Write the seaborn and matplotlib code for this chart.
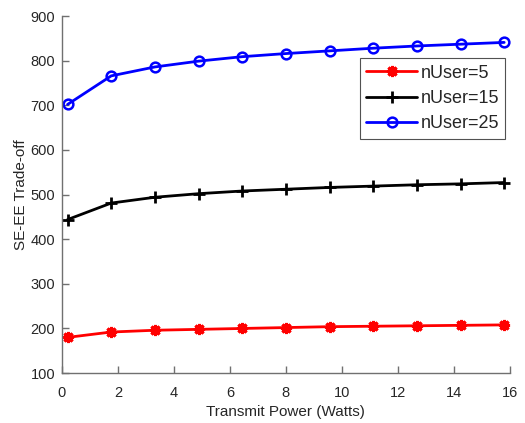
import numpy as np
import pandas as pd
import seaborn as sns
import matplotlib.pyplot as plt

# Transmit power samples (Watts)
power = [0.2, 1.76, 3.32, 4.88, 6.44, 8.0, 9.56, 11.12, 12.68, 14.24, 15.8]

# SE-EE trade-off per number of users
user5 = [180, 192, 196, 198, 200, 202, 204, 205, 206, 207, 208]
user15 = [444, 481, 494, 502, 508, 512, 516, 519, 522, 524, 527]
user25 = [702, 766, 786, 799, 809, 816, 822, 828, 833, 837, 841]

labels = ['nUser=5', 'nUser=15', 'nUser=25']
colors = ['#ff0000', '#000000', '#0000ff']

sns.set_style('white')
plt.rcParams['font.family'] = ['Liberation Sans', 'DejaVu Sans']

fig = plt.figure(figsize=(5.25, 4.23), dpi=100)
ax = fig.add_axes([0.118, 0.118, 0.853, 0.844])

styles = [
    dict(marker=(8, 2, 0), markersize=8, markeredgewidth=2.2,
         markerfacecolor='#ff0000', markeredgecolor='#ff0000'),
    dict(marker='+', markersize=9, markeredgewidth=2,
         markerfacecolor='#000000', markeredgecolor='#000000'),
    dict(marker='o', markersize=7, markerfacecolor='none', markeredgewidth=1.8,
         markeredgecolor='#0000ff'),
]

for vals, lab, col, st in zip([user5, user15, user25], labels, colors, styles):
    df = pd.DataFrame({'power': power, 'val': vals})
    sns.lineplot(data=df, x='power', y='val', color=col, linewidth=2,
                 label=lab, ax=ax, **st)

ax.set_xlim(0, 16)
ax.set_ylim(100, 900)
ax.set_xticks(range(0, 17, 2))
ax.set_yticks(range(100, 901, 100))
ax.tick_params(direction='in', length=5, width=1, labelsize=10.5,
               color='#707070', labelcolor='#262626')
ax.tick_params(axis='x', pad=9, bottom=True)
ax.tick_params(axis='y', pad=5, left=True)
for side in ['top', 'right']:
    ax.spines[side].set_visible(False)
for side in ['left', 'bottom']:
    ax.spines[side].set_color('#707070')
    ax.spines[side].set_linewidth(1)

ax.set_xlabel('Transmit Power (Watts)', fontsize=11, color='#262626', labelpad=4)
ax.set_ylabel('SE-EE Trade-off', fontsize=11, color='#262626', labelpad=2)

leg = ax.legend(loc='upper right', bbox_to_anchor=(0.99, 0.882), fontsize=13,
                handlelength=2.8, frameon=True, fancybox=False, borderpad=0.35,
                labelspacing=0.47, handletextpad=0.2, borderaxespad=0)
leg.get_frame().set_edgecolor('#262626')
leg.get_frame().set_linewidth(0.8)

fig.savefig('out.png', dpi=100)
